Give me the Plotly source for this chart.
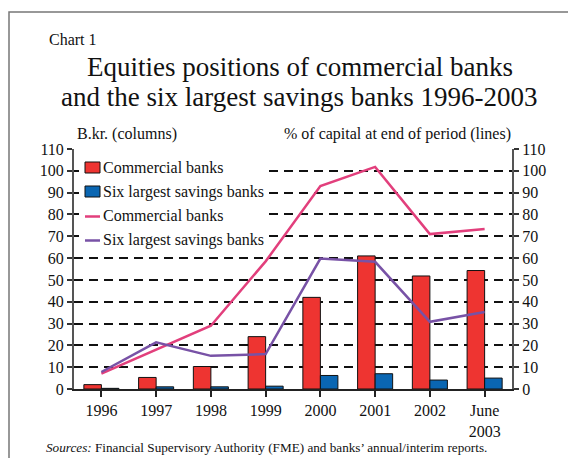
import plotly.graph_objects as go

# --- data -------------------------------------------------------------
periods = ["1996", "1997", "1998", "1999", "2000", "2001", "2002", "June<br>2003"]
commercial_bkr = [2.0, 5.3, 10.3, 24.0, 42.0, 61.0, 51.8, 54.3]
savings_bkr = [0.3, 1.0, 1.0, 1.3, 6.2, 7.0, 4.1, 5.0]
commercial_pct = [7.0, 18.0, 29.0, 58.5, 93.0, 101.8, 71.0, 73.3]
savings_pct = [7.8, 21.4, 15.2, 16.0, 59.8, 58.3, 30.8, 35.3]

RED = "#ee3431"
BLUE = "#0a66b2"
PINK = "#e23f7c"
PURPLE = "#7852a6"
SERIF = "Liberation Serif, Times New Roman, serif"

W, H = 568, 458
L, R, T, B = 74, 512, 149, 389  # plot-area edges in pixels


def px(x):
    return (x - L) / (R - L)


def py(y):
    return (B - y) / (B - T)


fig = go.Figure()

bar_line = dict(color="#111111", width=1)
fig.add_trace(go.Bar(x=periods, y=commercial_bkr, name="Commercial banks",
                     marker=dict(color=RED, line=bar_line), yaxis="y"))
fig.add_trace(go.Bar(x=periods, y=savings_bkr, name="Six largest savings banks",
                     marker=dict(color=BLUE, line=bar_line), yaxis="y"))
fig.add_trace(go.Scatter(x=periods, y=commercial_pct, name="Commercial banks",
                         mode="lines", line=dict(color=PINK, width=2.5), yaxis="y2"))
fig.add_trace(go.Scatter(x=periods, y=savings_pct, name="Six largest savings banks",
                         mode="lines", line=dict(color=PURPLE, width=2.5), yaxis="y2"))

tick_font = dict(family=SERIF, size=16, color="#111111")
yrange = [0, 110]
common_y = dict(range=yrange, dtick=10, tick0=0, fixedrange=True, zeroline=False,
                tickfont=tick_font, ticks="outside", ticklen=5, tickwidth=1.5,
                tickcolor="#333333", showline=True, linecolor="#555555", linewidth=2)

fig.update_layout(
    width=W, height=H,
    margin=dict(l=L, r=W - R, t=T, b=H - B),
    paper_bgcolor="white", plot_bgcolor="white",
    showlegend=False,
    barmode="group", bargap=0.36, bargroupgap=0,
    xaxis=dict(type="category", range=[-0.5, 7.5], tickfont=tick_font,
               ticks="outside", ticklen=6, tickwidth=1.5, tickcolor="#222222",
               showline=True, linecolor="#222222", linewidth=2, showgrid=False,
               fixedrange=True),
    yaxis=dict(**common_y, side="left", showgrid=True, gridcolor="#111111",
               gridwidth=2, griddash="9px,6px"),
    yaxis2=dict(**common_y, side="right", overlaying="y", showgrid=False),
    # inner tick marks every 5 units on both sides
    yaxis3=dict(range=yrange, dtick=5, tick0=0, overlaying="y", side="left",
                ticks="inside", ticklen=4, tickwidth=1.5, tickcolor="#333333",
                showticklabels=False, showgrid=False, zeroline=False, showline=False),
    yaxis4=dict(range=yrange, dtick=5, tick0=0, overlaying="y", side="right",
                ticks="inside", ticklen=4, tickwidth=1.5, tickcolor="#333333",
                showticklabels=False, showgrid=False, zeroline=False, showline=False),
)

shapes = []
annotations = []

# outer frame of the chart panel
shapes.append(dict(type="rect", xref="paper", yref="paper",
                   x0=px(9), x1=px(W + 20), y0=py(H + 20), y1=py(12),
                   line=dict(color="#777777", width=1.5), fillcolor="rgba(0,0,0,0)",
                   layer="above"))

# legend panel
shapes.append(dict(type="rect", xref="paper", yref="paper",
                   x0=px(79), x1=px(266), y0=py(252), y1=py(153),
                   line=dict(width=0), fillcolor="white", layer="above"))

legend_rows = [
    ("bar", RED, "Commercial banks", 167.5),
    ("bar", BLUE, "Six largest savings banks", 191.5),
    ("line", PINK, "Commercial banks", 215.5),
    ("line", PURPLE, "Six largest savings banks", 239.5),
]
for kind, color, label, yc in legend_rows:
    if kind == "bar":
        shapes.append(dict(type="rect", xref="paper", yref="paper",
                           x0=px(85), x1=px(100), y0=py(yc + 5.5), y1=py(yc - 5.5),
                           line=dict(color="#111111", width=1), fillcolor=color,
                           layer="above"))
    else:
        shapes.append(dict(type="line", xref="paper", yref="paper",
                           x0=px(85), x1=px(100), y0=py(yc + 1), y1=py(yc + 1),
                           line=dict(color=color, width=2.5), layer="above"))
    annotations.append(dict(text=label, xref="paper", yref="paper",
                            x=px(101), y=py(yc), xanchor="left", yanchor="middle",
                            showarrow=False, font=dict(family=SERIF, size=16, color="#111111")))

# headings
annotations += [
    dict(text="Chart 1", x=px(47), y=py(39), xanchor="left", yanchor="middle",
         font=dict(family=SERIF, size=16, color="#111111")),
    dict(text="Equities positions of commercial banks", x=px(300), y=py(67),
         xanchor="center", yanchor="middle",
         font=dict(family=SERIF, size=27, color="#111111")),
    dict(text="and the six largest savings banks 1996-2003", x=px(299), y=py(97),
         xanchor="center", yanchor="middle",
         font=dict(family=SERIF, size=27, color="#111111")),
    dict(text="B.kr. (columns)", x=px(75), y=py(134), xanchor="left", yanchor="middle",
         font=dict(family=SERIF, size=16, color="#111111")),
    dict(text="% of capital at end of period (lines)", x=px(513), y=py(134),
         xanchor="right", yanchor="middle",
         font=dict(family=SERIF, size=16, color="#111111")),
    dict(text="<i>Sources:</i> Financial Supervisory Authority (FME) and banks\u2019 annual/interim reports.",
         x=px(44), y=py(447), xanchor="left", yanchor="middle",
         font=dict(family=SERIF, size=13.2, color="#111111")),
]
for a in annotations:
    a.setdefault("xref", "paper")
    a.setdefault("yref", "paper")
    a.setdefault("showarrow", False)

fig.update_layout(shapes=shapes, annotations=annotations)

fig.write_html("out.html")
